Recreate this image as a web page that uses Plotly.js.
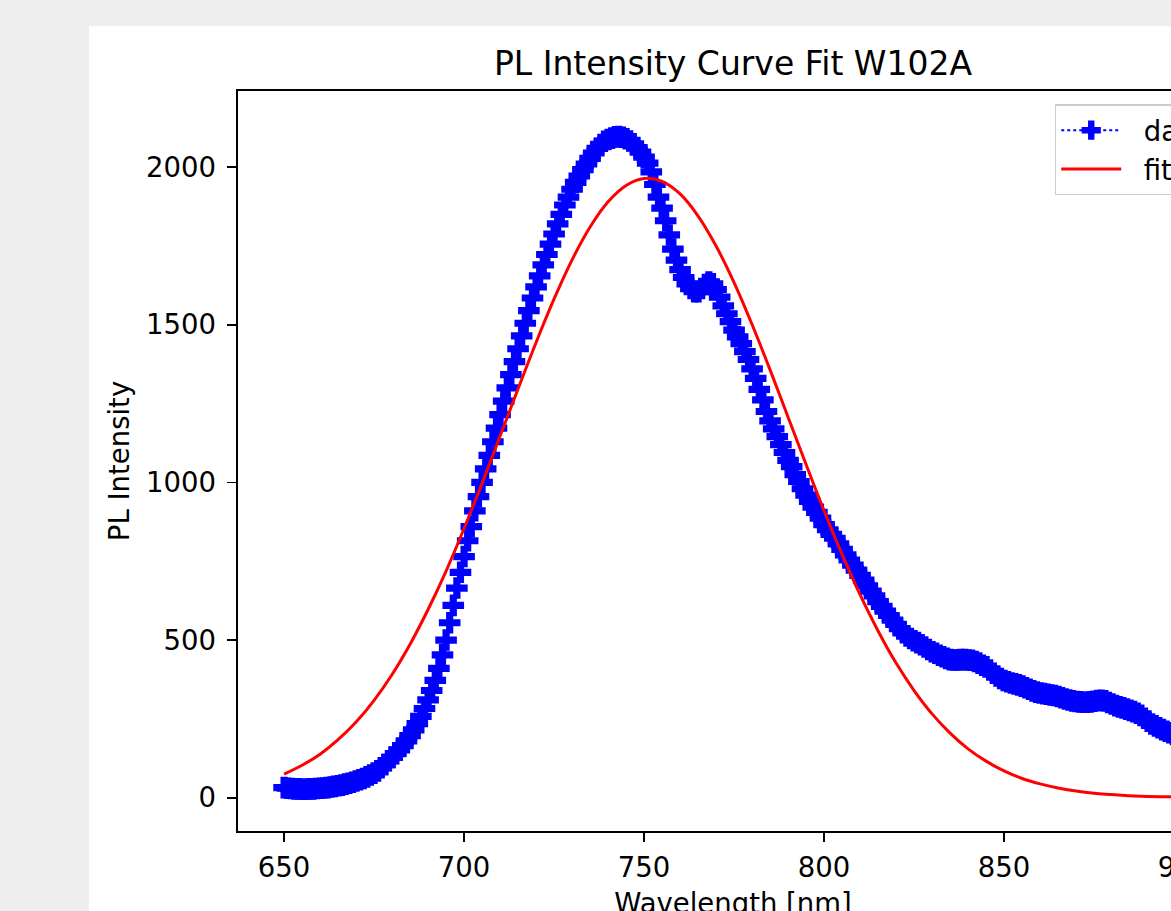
<!DOCTYPE html>
<html>
<head>
<meta charset="utf-8">
<script src="https://cdn.plot.ly/plotly-3.0.1.min.js"></script>
<style>
html,body{margin:0;padding:0;background:#eeeeee;overflow:hidden;width:1171px;height:911px;}
#chart{position:absolute;left:89px;top:26px;width:1300px;height:1000px;}
</style>
</head>
<body>
<div id="chart"></div>
<script>
const wavelength = [
650,651,652,653,654,655,656,657,658,659,
660,661,662,663,664,665,666,667,668,669,
670,671,672,673,674,675,676,677,678,679,
680,681,682,683,684,685,686,687,688,689,
690,691,692,693,694,695,696,697,698,699,
700,701,702,703,704,705,706,707,708,709,
710,711,712,713,714,715,716,717,718,719,
720,721,722,723,724,725,726,727,728,729,
730,731,732,733,734,735,736,737,738,739,
740,741,742,743,744,745,746,747,748,749,
750,751,752,753,754,755,756,757,758,759,
760,761,762,763,764,765,766,767,768,769,
770,771,772,773,774,775,776,777,778,779,
780,781,782,783,784,785,786,787,788,789,
790,791,792,793,794,795,796,797,798,799,
800,801,802,803,804,805,806,807,808,809,
810,811,812,813,814,815,816,817,818,819,
820,821,822,823,824,825,826,827,828,829,
830,831,832,833,834,835,836,837,838,839,
840,841,842,843,844,845,846,847,848,849,
850,851,852,853,854,855,856,857,858,859,
860,861,862,863,864,865,866,867,868,869,
870,871,872,873,874,875,876,877,878,879,
880,881,882,883,884,885,886,887,888,889,
890,891,892,893,894,895,896,897,898,899,
900];
const intensity = [
32,30,29,28,28,27,27,28,28,29,
30,31,32,34,36,38,40,43,46,49,
53,57,61,66,72,78,85,95,105,117,
128,140,152,165,180,197,215,235,258,283,
310,340,372,410,453,500,555,610,665,715,
765,815,860,910,955,1000,1043,1086,1129,1172,
1215,1258,1300,1342,1383,1424,1465,1505,1545,1585,
1620,1655,1690,1723,1756,1788,1820,1850,1880,1905,
1930,1952,1972,1992,2010,2028,2045,2060,2072,2082,
2088,2092,2096,2097,2095,2090,2083,2074,2062,2048,
2032,2013,1985,1945,1905,1870,1830,1785,1740,1705,
1675,1650,1630,1615,1605,1605,1615,1628,1636,1630,
1612,1588,1560,1535,1510,1483,1462,1440,1415,1390,
1360,1330,1295,1262,1225,1195,1170,1145,1120,1095,
1070,1050,1025,1003,980,960,940,922,905,887,
866,850,835,823,805,788,770,754,738,722,
705,690,672,655,640,622,607,592,578,563,
550,536,523,513,505,498,492,485,478,470,
463,458,452,447,442,438,437,437,438,438,
437,436,432,427,420,415,405,395,386,378,
372,368,364,361,358,354,349,344,339,335,
332,330,328,326,324,321,317,313,310,307,
305,304,303,303,304,306,308,309,307,302,
297,292,288,285,281,277,273,268,261,252,
243,234,228,222,216,211,206,201,196,192,
188];

// Fitted curve (5 nm steps)
const fitWavelength = [650,655,660,665,670,675,680,685,690,695,700,705,710,715,720,725,730,735,740,745,
  750,755,760,765,770,775,780,785,790,795,800,805,810,815,820,825,830,835,840,845,
  850,855,860,865,870,875,880,885,890,895,900];
const fitIntensity = [75,103,138,184,240,309,391,487,597,719,854,997,1147,1297,1444,1582,1706,1810,1890,1942,
  1964,1955,1915,1845,1750,1634,1501,1357,1207,1057,910,772,644,529,427,340,266,205,155,116,
  85,61,44,31,21,14,10,6,4,3,2];

const xTicks = [650,700,750,800,850,900];
const yTicks = [0,500,1000,1500,2000];
const seriesNames = ['\u00a0\u00a0data', '\u00a0\u00a0fit'];

const FONT = 'DejaVu Sans, sans-serif';
const FS = 27.5;

const traces = [
  {
    x: wavelength, y: intensity, name: seriesNames[0], type: 'scatter', mode: 'lines+markers',
    line: {color: '#0000ff', dash: 'dot', width: 2},
    marker: {symbol: 'cross', size: 18, color: '#0000ff', line: {width: 0}}
  },
  {
    x: fitWavelength, y: fitIntensity, name: seriesNames[1], type: 'scatter', mode: 'lines',
    line: {color: '#ff0000', width: 3, shape: 'spline'}
  }
];

const axisCommon = {
  ticks: 'outside', ticklen: 9, tickwidth: 1.6, tickcolor: '#000',
  showline: true, mirror: true, linecolor: '#000', linewidth: 1.6,
  showgrid: false, zeroline: false,
  tickfont: {family: FONT, size: FS, color: '#000'}
};

const layout = {
  width: 1300, height: 1000, autosize: false,
  margin: {l: 149, r: 161, t: 65, b: 195},
  paper_bgcolor: '#ffffff', plot_bgcolor: '#ffffff',
  font: {family: FONT, color: '#000'},
  title: {text: 'PL Intensity Curve Fit W102A', x: 0.5, xref: 'paper', xanchor: 'center',
          y: 0.963, yref: 'container', yanchor: 'middle', font: {family: FONT, size: 33, color: '#000'}},
  xaxis: Object.assign({}, axisCommon, {
    range: [637.2, 912.2], tickmode: 'array', tickvals: xTicks, ticktext: xTicks.map(String),
    ticklabelstandoff: 2,
    title: {text: 'Wavelength [nm]', font: {family: FONT, size: FS, color: '#000'}, standoff: 12}
  }),
  yaxis: Object.assign({}, axisCommon, {
    range: [-105.6, 2241.6], tickmode: 'array', tickvals: yTicks, ticktext: yTicks.map(String),
    ticklabelstandoff: 6,
    title: {text: 'PL Intensity', font: {family: FONT, size: FS, color: '#000'}, standoff: 8}
  }),
  showlegend: true,
  legend: {x: 0.825, y: 0.982, xanchor: 'left', yanchor: 'top',
           bordercolor: '#cccccc', borderwidth: 1.5, bgcolor: 'rgba(255,255,255,0.8)',
           font: {family: FONT, size: FS, color: '#000'}, itemwidth: 60}
};

Plotly.newPlot('chart', traces, layout, {displayModeBar: false, staticPlot: true});
</script>
</body>
</html>
